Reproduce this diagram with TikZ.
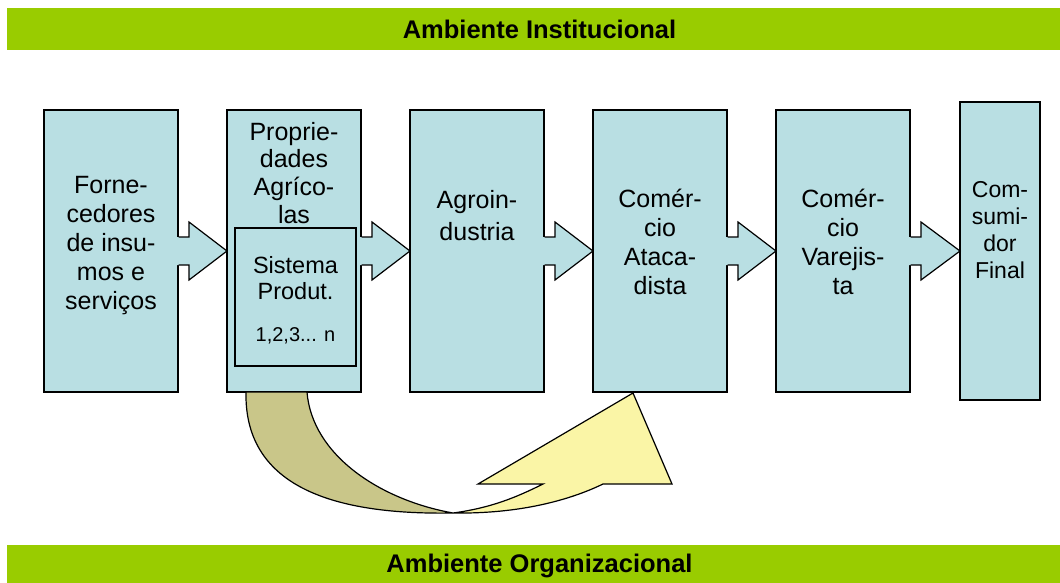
\documentclass[tikz,border=0pt]{standalone}
\usepackage{fontspec}
\setmainfont{Liberation Sans}
\definecolor{boxc}{RGB}{185,223,227}
\definecolor{barc}{RGB}{153,204,0}
\definecolor{curveback}{RGB}{201,198,137}
\definecolor{curvefront}{RGB}{250,245,166}
\tikzset{
  stagebox/.style={draw=black,fill=boxc,line width=1.2pt,inner sep=0pt,outer sep=0pt,anchor=north west},
  stagetxt/.style={inner sep=0pt,outer sep=0pt,anchor=north,align=center,font=\fontsize{25}{29}\selectfont},
  envbar/.style={fill=barc,draw=none,inner sep=0pt,outer sep=0pt,anchor=north west,minimum width=1065pt,minimum height=42pt,font=\fontsize{25.5}{30}\selectfont\bfseries},
  edge/.style={draw=black,line width=1.2pt,line join=miter},
}
\newcommand\flowarrow[2]{%
  \fill[boxc] ([xshift=-0.8pt,yshift=14pt]#1.east) -- ([xshift=11pt,yshift=14pt]#1.east) -- ([xshift=11pt,yshift=29pt]#1.east) -- (#2.west) -- ([xshift=11pt,yshift=-29pt]#1.east) -- ([xshift=11pt,yshift=-14pt]#1.east) -- ([xshift=-0.8pt,yshift=-14pt]#1.east) -- cycle;
  \draw[edge] ([xshift=0.6pt,yshift=14pt]#1.east) -- ([xshift=11pt,yshift=14pt]#1.east) -- ([xshift=11pt,yshift=29pt]#1.east) -- (#2.west) -- ([xshift=11pt,yshift=-29pt]#1.east) -- ([xshift=11pt,yshift=-14pt]#1.east) -- ([xshift=0.6pt,yshift=-14pt]#1.east);
}
\begin{document}
\begin{tikzpicture}[x=1pt,y=-1pt]
\useasboundingbox (0,0) rectangle (1060,582);
% environment bars
\node[envbar] (inst) at (7,8) {Ambiente Institucional};
\node[envbar] (org) at (7,545) {Ambiente Organizacional};
% stage boxes
\node[stagebox,minimum width=134pt,minimum height=282pt] (b1) at (44,110) {};
\node[stagebox,minimum width=134pt,minimum height=282pt] (b2) at (227,110) {};
\node[stagebox,minimum width=134pt,minimum height=282pt] (b3) at (410,110) {};
\node[stagebox,minimum width=134pt,minimum height=282pt] (b4) at (593,110) {};
\node[stagebox,minimum width=134pt,minimum height=282pt] (b5) at (776,110) {};
\node[stagebox,minimum width=80pt,minimum height=298pt] (b6) at (960,102) {};
\node[stagebox,minimum width=121pt,minimum height=138pt] (inner) at (235,228) {};
% texts
\node[stagetxt] (t1) at (111,176) {Forne-\\cedores\\de insu-\\mos e\\serviços};
\node[stagetxt,font=\fontsize{25}{27.8}\selectfont] (t2) at (294,122) {Proprie-\\dades\\Agríco-\\las};
\node[stagetxt,font=\fontsize{23.5}{26}\selectfont] (t2b) at (295.5,256) {Sistema\\Produt.};
\node[inner sep=0pt,anchor=base,font=\fontsize{20}{24}\selectfont] (t2c) at (295.5,341) {1,2,3... n};
\node[stagetxt,font=\fontsize{25}{32}\selectfont] (t3) at (477,190) {Agroin-\\dustria};
\node[stagetxt] (t4) at (660,189) {Comér-\\cio\\Ataca-\\dista};
\node[stagetxt] (t5) at (843,189) {Comér-\\cio\\Varejis-\\ta};
\node[stagetxt,font=\fontsize{23}{27}\selectfont] (t6) at (1000,181) {Com-\\sumi-\\dor\\Final};
% block arrows
\flowarrow{b1}{b2}
\flowarrow{b2}{b3}
\flowarrow{b3}{b4}
\flowarrow{b4}{b5}
\flowarrow{b5}{b6}
% curved arrow from farms to wholesale
\filldraw[edge,fill=curveback] (246,392) -- (307,392) .. controls (312,455) and (380,500) .. (453,513) .. controls (340,515) and (244,490) .. (246,392) -- cycle;
\filldraw[edge,fill=curvefront] (453,513) .. controls (520,514) and (570,500) .. (603,484) -- (672,484) -- (633,393) -- (478,484) -- (543,484) .. controls (515,498) and (490,508) .. (453,513) -- cycle;
\end{tikzpicture}
\end{document}
